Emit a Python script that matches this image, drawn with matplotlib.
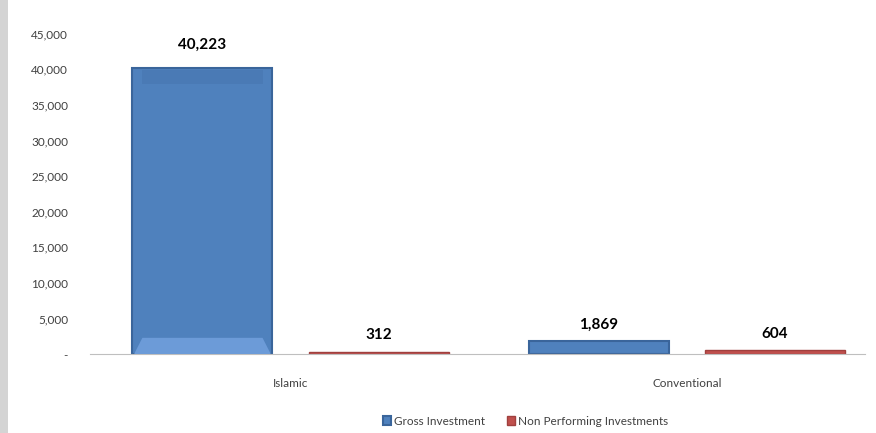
import numpy as np
import matplotlib.pyplot as plt
from matplotlib.patches import Rectangle, Polygon

categories = ['Islamic', 'Conventional']
gross_investment = [40223, 1869]
non_performing = [312, 604]
series_names = ['Gross Investment', 'Non Performing Investments']
ytick_values = [0, 5000, 10000, 15000, 20000, 25000, 30000, 35000, 40000, 45000]

blue = '#4F81BD'
red = '#C0504D'

plt.rcParams['font.family'] = ['Lato', 'DejaVu Sans']

fig = plt.figure(figsize=(8.76, 4.33), dpi=100)
ax = fig.add_axes([0.103, 0.182, 0.885, 0.74])

# grey strip along the left edge of the sheet
fig.patches.append(Rectangle((0, 0), 0.009, 1, transform=fig.transFigure,
                             facecolor='#D4D4D4', edgecolor='none'))

x = np.arange(len(categories))
width = 0.353
offset = 0.222

b1 = ax.bar(x - offset, gross_investment, width, color=blue,
            edgecolor='#3A659B', linewidth=1.5, label=series_names[0])
b2 = ax.bar(x + offset, non_performing, width, color=red,
            edgecolor='#A0403E', linewidth=1.0, label=series_names[1])

# bevel: lighter slanted strip at the foot of the tall bar
for r in b1:
    h = r.get_height()
    if h < 10000:
        continue
    x0, x1 = r.get_x(), r.get_x() + width
    bev = 2300
    inset = 0.025
    ax.add_patch(Polygon([(x0 + 0.004, 0), (x1 - 0.004, 0),
                          (x1 - inset, bev), (x0 + inset, bev)],
                         closed=True, facecolor='#6C9BD8', edgecolor='none',
                         zorder=3))
    ax.add_patch(Polygon([(x0 + inset, h - 300), (x1 - inset, h - 300),
                          (x1 - inset, h - 2300), (x0 + inset, h - 2300)],
                         closed=True, facecolor='#4A7AB5', edgecolor='none',
                         zorder=3))

label_pad = [2200, 1300, 1400, 1200]
vals = gross_investment + non_performing
xs = list(x - offset) + list(x + offset)
for xi, v, p in zip(xs, vals, label_pad):
    ax.text(xi, v + p, f'{v:,}', ha='center', va='bottom',
            fontsize=11, fontweight='bold', color='black')

ax.set_xlim(-0.505, 1.45)
ax.set_ylim(0, 45000)
ax.set_yticks(ytick_values)
ax.set_yticklabels(['-' if v == 0 else f'{v:,}' for v in ytick_values])
ax.set_xticks(x)
ax.set_xticklabels(categories)
ax.tick_params(axis='y', length=0, labelsize=8.5, labelcolor='#404040', pad=16)
ax.tick_params(axis='x', length=0, labelsize=8.5, labelcolor='#404040', pad=17)

for s in ['top', 'right', 'left']:
    ax.spines[s].set_visible(False)
ax.spines['bottom'].set_color('#BFBFBF')

fig.legend(loc='lower center', bbox_to_anchor=(0.60, -0.01), ncol=2,
           frameon=False, fontsize=8.5, handlelength=0.7, handleheight=0.7,
           handletextpad=0.3, columnspacing=1.8, labelcolor='#404040')

fig.savefig('out.png', dpi=100)
